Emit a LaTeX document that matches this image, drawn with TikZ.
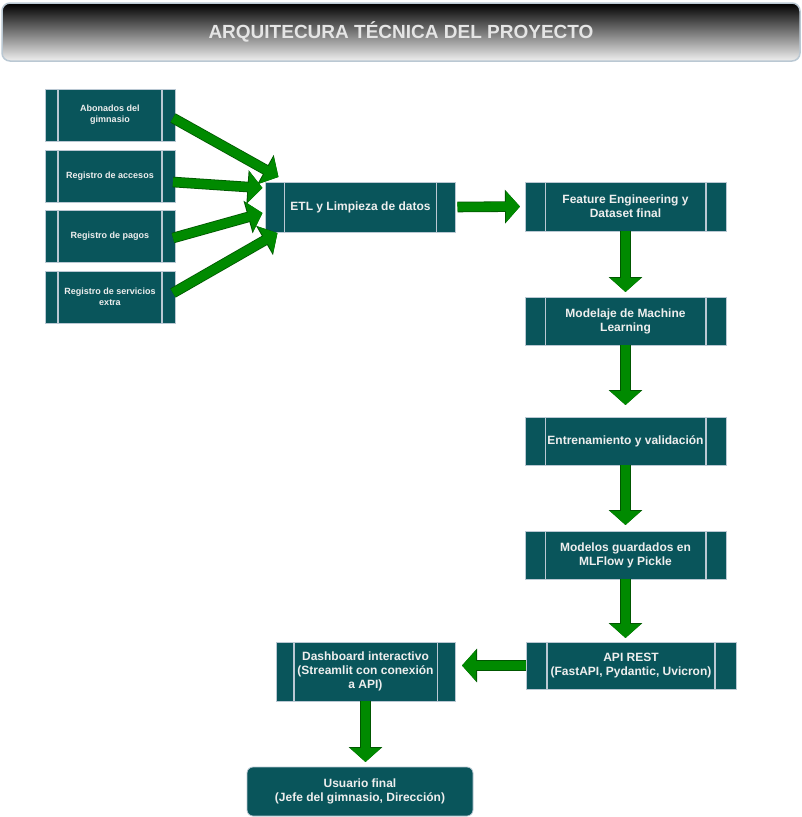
\documentclass[tikz,border=0pt]{standalone}
\usepackage{fontspec}
\setmainfont{Liberation Sans}
\usetikzlibrary{calc,arrows.meta}
\definecolor{tealbox}{HTML}{09555B}
\definecolor{bordebox}{HTML}{BAC8D3}
\definecolor{textobox}{HTML}{EEEEEE}
\definecolor{verdeflecha}{HTML}{008A00}
\definecolor{verdeborde}{HTML}{005700}
\tikzset{
	caja/.style={draw=bordebox, fill=tealbox, text=textobox, align=center, inner sep=0pt, outer sep=0pt, line width=0.8pt, font=\bfseries\fontsize{12}{14}\selectfont},
	proceso/.style={caja,
		path picture={
			\draw[bordebox, line width=1.2pt] ($(path picture bounding box.north west)!0.1!(path picture bounding box.north east)$) -- ($(path picture bounding box.south west)!0.1!(path picture bounding box.south east)$);
			\draw[bordebox, line width=1.2pt] ($(path picture bounding box.north west)!0.9!(path picture bounding box.north east)$) -- ($(path picture bounding box.south west)!0.9!(path picture bounding box.south east)$);
		}},
	fuente/.style={proceso, font=\bfseries\fontsize{9}{11}\selectfont, minimum width=130pt, minimum height=52pt},
	flecha/.style={verdeflecha, line width=9pt, -{Triangle[width=30pt,length=14pt]},
		preaction={draw=verdeborde, line width=10.6pt, -{Triangle[width=33pt,length=15pt]}}},
}
\begin{document}
\begin{tikzpicture}[x=1pt,y=-1pt]
	\useasboundingbox (0,0) rectangle (802,817);
	% titulo
	\node[draw=bordebox, line width=1.5pt, rounded corners=8pt, top color=black, bottom color=gray!12, minimum width=798pt, minimum height=58pt, text=gray!20, font=\bfseries\fontsize{19}{22}\selectfont] (titulo) at (401,32) {ARQUITECURA TÉCNICA DEL PROYECTO};
	% fuentes de datos
	\node[fuente] (abonados) at (110,115) {Abonados del\\gimnasio};
	\node[fuente] (accesos) at (110,176) {Registro de accesos};
	\node[fuente] (pagos) at (110,236) {Registro de pagos};
	\node[fuente] (servicios) at (110,297) {Registro de servicios\\extra};
	% flujo principal
	\node[proceso, minimum width=190pt, minimum height=50pt] (etl) at (360.5,207) {ETL y Limpieza de datos};
	\node[proceso, minimum width=201pt, minimum height=49pt] (feature) at (625.5,206.5) {Feature Engineering y\\Dataset final};
	\node[proceso, minimum width=201pt, minimum height=48pt] (modelaje) at (625.5,321) {Modelaje de Machine\\Learning};
	\node[proceso, minimum width=201pt, minimum height=48pt] (entrena) at (625.5,441) {Entrenamiento y validación};
	\node[proceso, minimum width=201pt, minimum height=48pt] (modelos) at (625.5,555) {Modelos guardados en\\MLFlow y Pickle};
	\node[proceso, minimum width=210pt, minimum height=47pt] (api) at (631,665.5) {API REST\\(FastAPI, Pydantic, Uvicron)};
	\node[proceso, minimum width=179pt, minimum height=59pt] (dashboard) at (365.5,671.5) {Dashboard interactivo\\(Streamlit con conexión\\a API)};
	\node[caja, rounded corners=6pt, minimum width=226pt, minimum height=49pt] (usuario) at (360,791.5) {Usuario final\\(Jefe del gimnasio, Dirección)};
	% flechas
	\draw[flecha] ($(abonados.east)+(-2,3)$) -- ($(etl.north west)+(13,-5)$);
	\draw[flecha] ($(accesos.east)+(-2,6)$) -- ($(etl.west)+(-3,-19)$);
	\draw[flecha] ($(pagos.east)+(-2,2)$) -- ($(etl.west)+(-3,6)$);
	\draw[flecha] ($(servicios.east)+(-2,-4)$) -- ($(etl.south west)+(12,1)$);
	\draw[flecha, shorten <=2pt, shorten >=5pt] (etl.east) -- (feature.west);
	\draw[flecha, shorten >=5pt] (feature.south) -- (modelaje.north);
	\draw[flecha, shorten >=12pt] (modelaje.south) -- (entrena.north);
	\draw[flecha, shorten >=6pt] (entrena.south) -- (modelos.north);
	\draw[flecha, shorten >=4pt] (modelos.south) -- (modelos.south |- api.north);
	\draw[flecha, shorten >=7pt] (api.west) -- (api.west -| dashboard.east);
	\draw[flecha, shorten >=5pt] (dashboard.south) -- (dashboard.south |- usuario.north);
\end{tikzpicture}
\end{document}
